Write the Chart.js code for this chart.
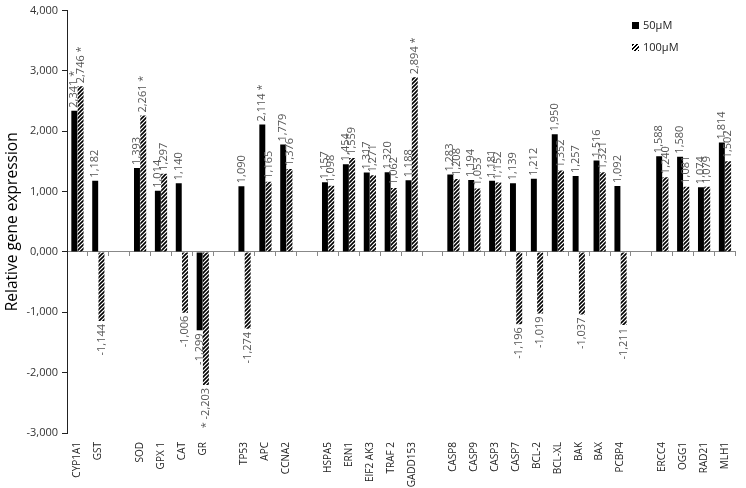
<!DOCTYPE html>
<html>
<head>
<meta charset="utf-8">
<script src="https://cdn.jsdelivr.net/npm/chart.js@4/dist/chart.umd.min.js"></script>
<style>
  body { margin: 0; background: #fff; }
  #wrap { position: relative; width: 746px; height: 488px; }
  #legend { position: absolute; left: 632px; top: 17px; font: 11px "Open Sans", sans-serif; color: #222; }
  #legend div { height: 22px; line-height: 16px; }
  #legend span.box { display: inline-block; width: 7px; height: 7px; margin-right: 4px; vertical-align: -0px; }
</style>
</head>
<body>
<div id="wrap">
  <canvas id="chart" width="746" height="488"></canvas>
  <div id="legend">
    <div><span class="box" style="background:#000"></span>50µM</div>
    <div><span class="box" style="background:repeating-linear-gradient(135deg,#000 0 1.5px,#fff 1.5px 3px)"></span>100µM</div>
  </div>
</div>
<script>
// gruppi di geni, con una colonna vuota fra un gruppo e l'altro
let genes = ['CYP1A1', 'GST', '', 'SOD', 'GPX 1', 'CAT', 'GR', '', 'TP53', 'APC', 'CCNA2', '',
  'HSPA5', 'ERN1', 'EIF2 AK3', 'TRAF 2', 'GADD153', '',
  'CASP8', 'CASP9', 'CASP3', 'CASP7', 'BCL-2', 'BCL-XL', 'BAK', 'BAX', 'PCBP4', '',
  'ERCC4', 'OGG1', 'RAD21', 'MLH1'];

let values50 = [2.341, 1.182, null, 1.393, 1.014, 1.140, -1.299, null, 1.090, 2.114, 1.779, null,
  1.157, 1.454, 1.317, 1.320, 1.188, null,
  1.283, 1.194, 1.181, 1.139, 1.212, 1.950, 1.257, 1.516, 1.092, null,
  1.588, 1.580, 1.074, 1.814];

let values100 = [2.746, -1.144, null, 2.261, 1.297, -1.006, -2.203, null, -1.274, 1.165, 1.376, null,
  1.098, 1.559, 1.271, 1.062, 2.894, null,
  1.208, 1.053, 1.152, -1.196, -1.019, 1.352, -1.037, 1.321, -1.211, null,
  1.240, 1.081, 1.079, 1.502];

// asterischi (significatività)
let star50 = ['CYP1A1', 'APC'];
let star100 = ['CYP1A1', 'SOD', 'GR', 'GADD153'];

let yTicks = [-3, -2, -1, 0, 1, 2, 3, 4];

const FONT = '"Open Sans", "Liberation Sans", sans-serif';

function fmt(v) {
  return v.toFixed(3).replace('.', ',');
}

function hatch() {
  let c = document.createElement('canvas');
  c.width = 4; c.height = 4;
  let g = c.getContext('2d');
  g.strokeStyle = '#000';
  g.lineWidth = 1.6;
  g.beginPath();
  g.moveTo(0, 4); g.lineTo(4, 0);
  g.moveTo(-1, 1); g.lineTo(1, -1);
  g.moveTo(3, 5); g.lineTo(5, 3);
  g.stroke();
  return g.createPattern(c, 'repeat');
}

// etichette ruotate sopra/sotto ogni barra
let barLabels = {
  id: 'barLabels',
  afterDatasetsDraw(chart) {
    let ctx = chart.ctx;
    ctx.save();
    ctx.font = '11px ' + FONT;
    ctx.fillStyle = '#555';
    ctx.textBaseline = 'middle';
    chart.data.datasets.forEach((ds, di) => {
      let meta = chart.getDatasetMeta(di);
      let stars = di == 0 ? star50 : star100;
      meta.data.forEach((bar, i) => {
        let v = ds.data[i];
        if (v === null) return;
        let s = fmt(v);
        let hasStar = stars.includes(genes[i]);
        ctx.save();
        ctx.translate(bar.x, bar.y);
        ctx.rotate(-Math.PI / 2);
        if (v >= 0) {
          ctx.textAlign = 'left';
          ctx.fillText(hasStar ? s + ' *' : s, 3, 0);
        } else {
          ctx.textAlign = 'right';
          ctx.fillText(hasStar ? '* ' + s : s, -3, 0);
        }
        ctx.restore();
      });
    });
    ctx.restore();
  }
};

new Chart('chart', {
  type: 'bar',
  data: {
    labels: genes,
    datasets: [
      { label: '50µM', data: values50, backgroundColor: '#000', borderWidth: 0 },
      { label: '100µM', data: values100, backgroundColor: hatch(), borderWidth: 0 }
    ]
  },
  options: {
    responsive: false,
    animation: false,
    events: [],
    layout: { padding: { top: 6, right: 1, left: 0, bottom: 0 } },
    categoryPercentage: 0.6,
    barPercentage: 0.95,
    plugins: {
      legend: { display: false },
      tooltip: { enabled: false }
    },
    scales: {
      x: {
        position: 'bottom',
        grid: { display: false, drawTicks: false },
        border: { display: false },
        ticks: {
          autoSkip: false, maxRotation: 90, minRotation: 90, padding: 9,
          color: '#222', font: { family: FONT, size: 10 }
        },
        afterFit(s) { s.height = 55; }
      },
      x2: {
        type: 'category',
        labels: genes,
        position: { y: 0 },
        offset: true,
        grid: { offset: true, drawOnChartArea: false, drawTicks: true, tickLength: 4, color: '#888' },
        border: { display: true, color: '#888', width: 1 },
        ticks: { display: false }
      },
      y: {
        min: -3, max: 4,
        afterBuildTicks(s) { s.ticks = yTicks.map(v => ({ value: v })); },
        grid: { drawOnChartArea: false, drawTicks: true, tickLength: 5, color: '#222' },
        border: { color: '#222', width: 1 },
        ticks: {
          padding: 4, color: '#333', font: { family: FONT, size: 11 },
          callback: v => fmt(v)
        },
        title: {
          display: true, text: 'Relative gene expression', color: '#000',
          font: { family: FONT, size: 15.5 }, padding: { top: 3, bottom: 0 }
        },
        afterFit(s) { s.width = 67; }
      }
    }
  },
  plugins: [barLabels]
});
</script>
</body>
</html>
